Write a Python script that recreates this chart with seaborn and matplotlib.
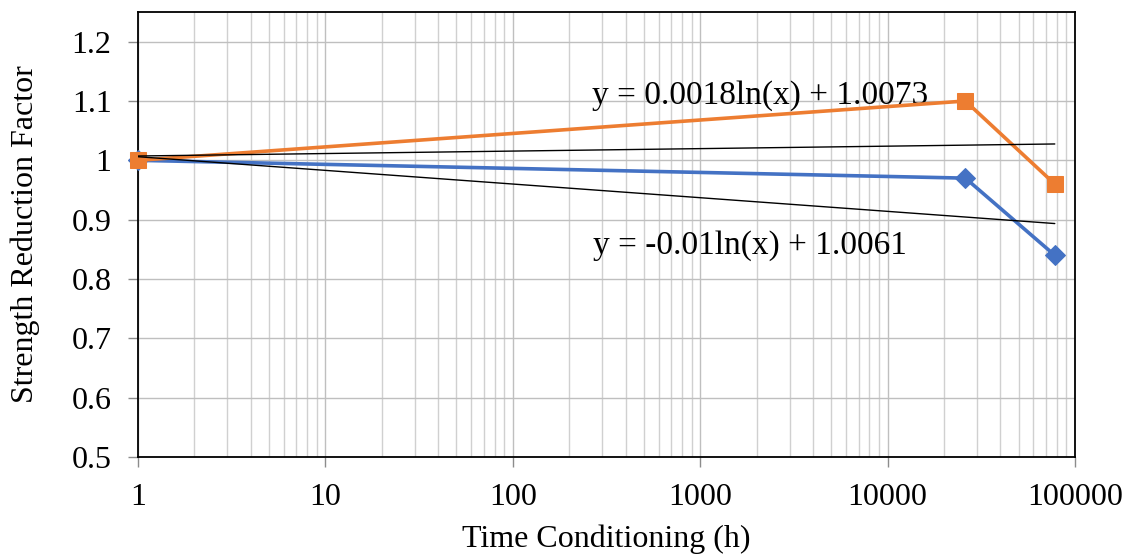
import numpy as np
import pandas as pd
import matplotlib
matplotlib.use("Agg")
import matplotlib.pyplot as plt
import matplotlib.ticker as mticker
import seaborn as sns

# --- data ---
hours = [1, 26000, 78000]
srf_orange = [1.0, 1.10, 0.96]
srf_blue = [1.0, 0.97, 0.84]

# log trendline coefficients shown on the chart (y = a ln(x) + b)
trend_orange = (0.0018, 1.0073)
trend_blue = (-0.01, 1.0061)
eq_orange = "y = 0.0018ln(x) + 1.0073"
eq_blue = "y = -0.01ln(x) + 1.0061"

x_ticks = [1, 10, 100, 1000, 10000, 100000]
y_ticks = [0.5, 0.6, 0.7, 0.8, 0.9, 1.0, 1.1, 1.2]
y_labels = ["0.5", "0.6", "0.7", "0.8", "0.9", "1", "1.1", "1.2"]

ORANGE = "#ED7D31"
BLUE = "#4472C4"

sns.set_style("white")
plt.rcParams["font.family"] = ["Liberation Serif", "DejaVu Serif"]
plt.rcParams["text.color"] = "black"
plt.rcParams["axes.labelcolor"] = "black"
plt.rcParams["xtick.labelcolor"] = "black"
plt.rcParams["ytick.labelcolor"] = "black"

df = pd.DataFrame({
    "hours": hours * 2,
    "srf": srf_blue + srf_orange,
    "series": ["blue"] * len(hours) + ["orange"] * len(hours),
})

fig = plt.figure(figsize=(11.25, 5.56), dpi=100)
ax = fig.add_axes([138 / 1125, 1 - 457 / 556, (1075 - 138) / 1125, (457 - 12) / 556])

sns.lineplot(data=df[df.series == "blue"], x="hours", y="srf", ax=ax,
             color=BLUE, lw=2.6, marker="D", markersize=10,
             markeredgecolor=BLUE, zorder=3, clip_on=False)
sns.lineplot(data=df[df.series == "orange"], x="hours", y="srf", ax=ax,
             color=ORANGE, lw=2.6, marker="s", markersize=12,
             markeredgecolor=ORANGE, zorder=4, clip_on=False)

# trendlines over the data range
xt = np.logspace(0, np.log10(hours[-1]), 200)
for a, b in (trend_orange, trend_blue):
    ax.plot(xt, a * np.log(xt) + b, color="black", lw=1.0, zorder=5)

ax.set_xscale("log")
ax.set_xlim(1, 100000)
ax.set_ylim(0.5, 1.25)
ax.xaxis.set_major_locator(mticker.FixedLocator(x_ticks))
ax.xaxis.set_major_formatter(mticker.FixedFormatter([str(t) for t in x_ticks]))
ax.xaxis.set_minor_locator(mticker.LogLocator(base=10, subs=np.arange(2, 10)))
ax.xaxis.set_minor_formatter(mticker.NullFormatter())
ax.set_yticks(y_ticks)
ax.set_yticklabels(y_labels)

ax.grid(True, which="major", axis="both", color="#bfbfbf", lw=1.0)
ax.grid(True, which="minor", axis="x", color="#d0d0d0", lw=1.0)
ax.set_axisbelow(True)

for s in ax.spines.values():
    s.set_color("black")
    s.set_linewidth(1.3)

ax.tick_params(axis="both", which="major", labelsize=23, length=7, width=1,
               color="#8c8c8c", direction="out", bottom=True, left=True)
ax.tick_params(axis="y", which="major", pad=12)
ax.tick_params(axis="x", which="major", pad=12)
ax.tick_params(axis="x", which="minor", length=0)

ax.set_xlabel("Time Conditioning (h)", fontsize=23, labelpad=9)
ax.set_ylabel("Strength Reduction Factor", fontsize=23, labelpad=23)

ax.text(2085, 1.109, eq_orange, fontsize=24, ha="center", va="center")
ax.text(1845, 0.857, eq_blue, fontsize=24, ha="center", va="center")

fig.savefig("out.png", dpi=100)
